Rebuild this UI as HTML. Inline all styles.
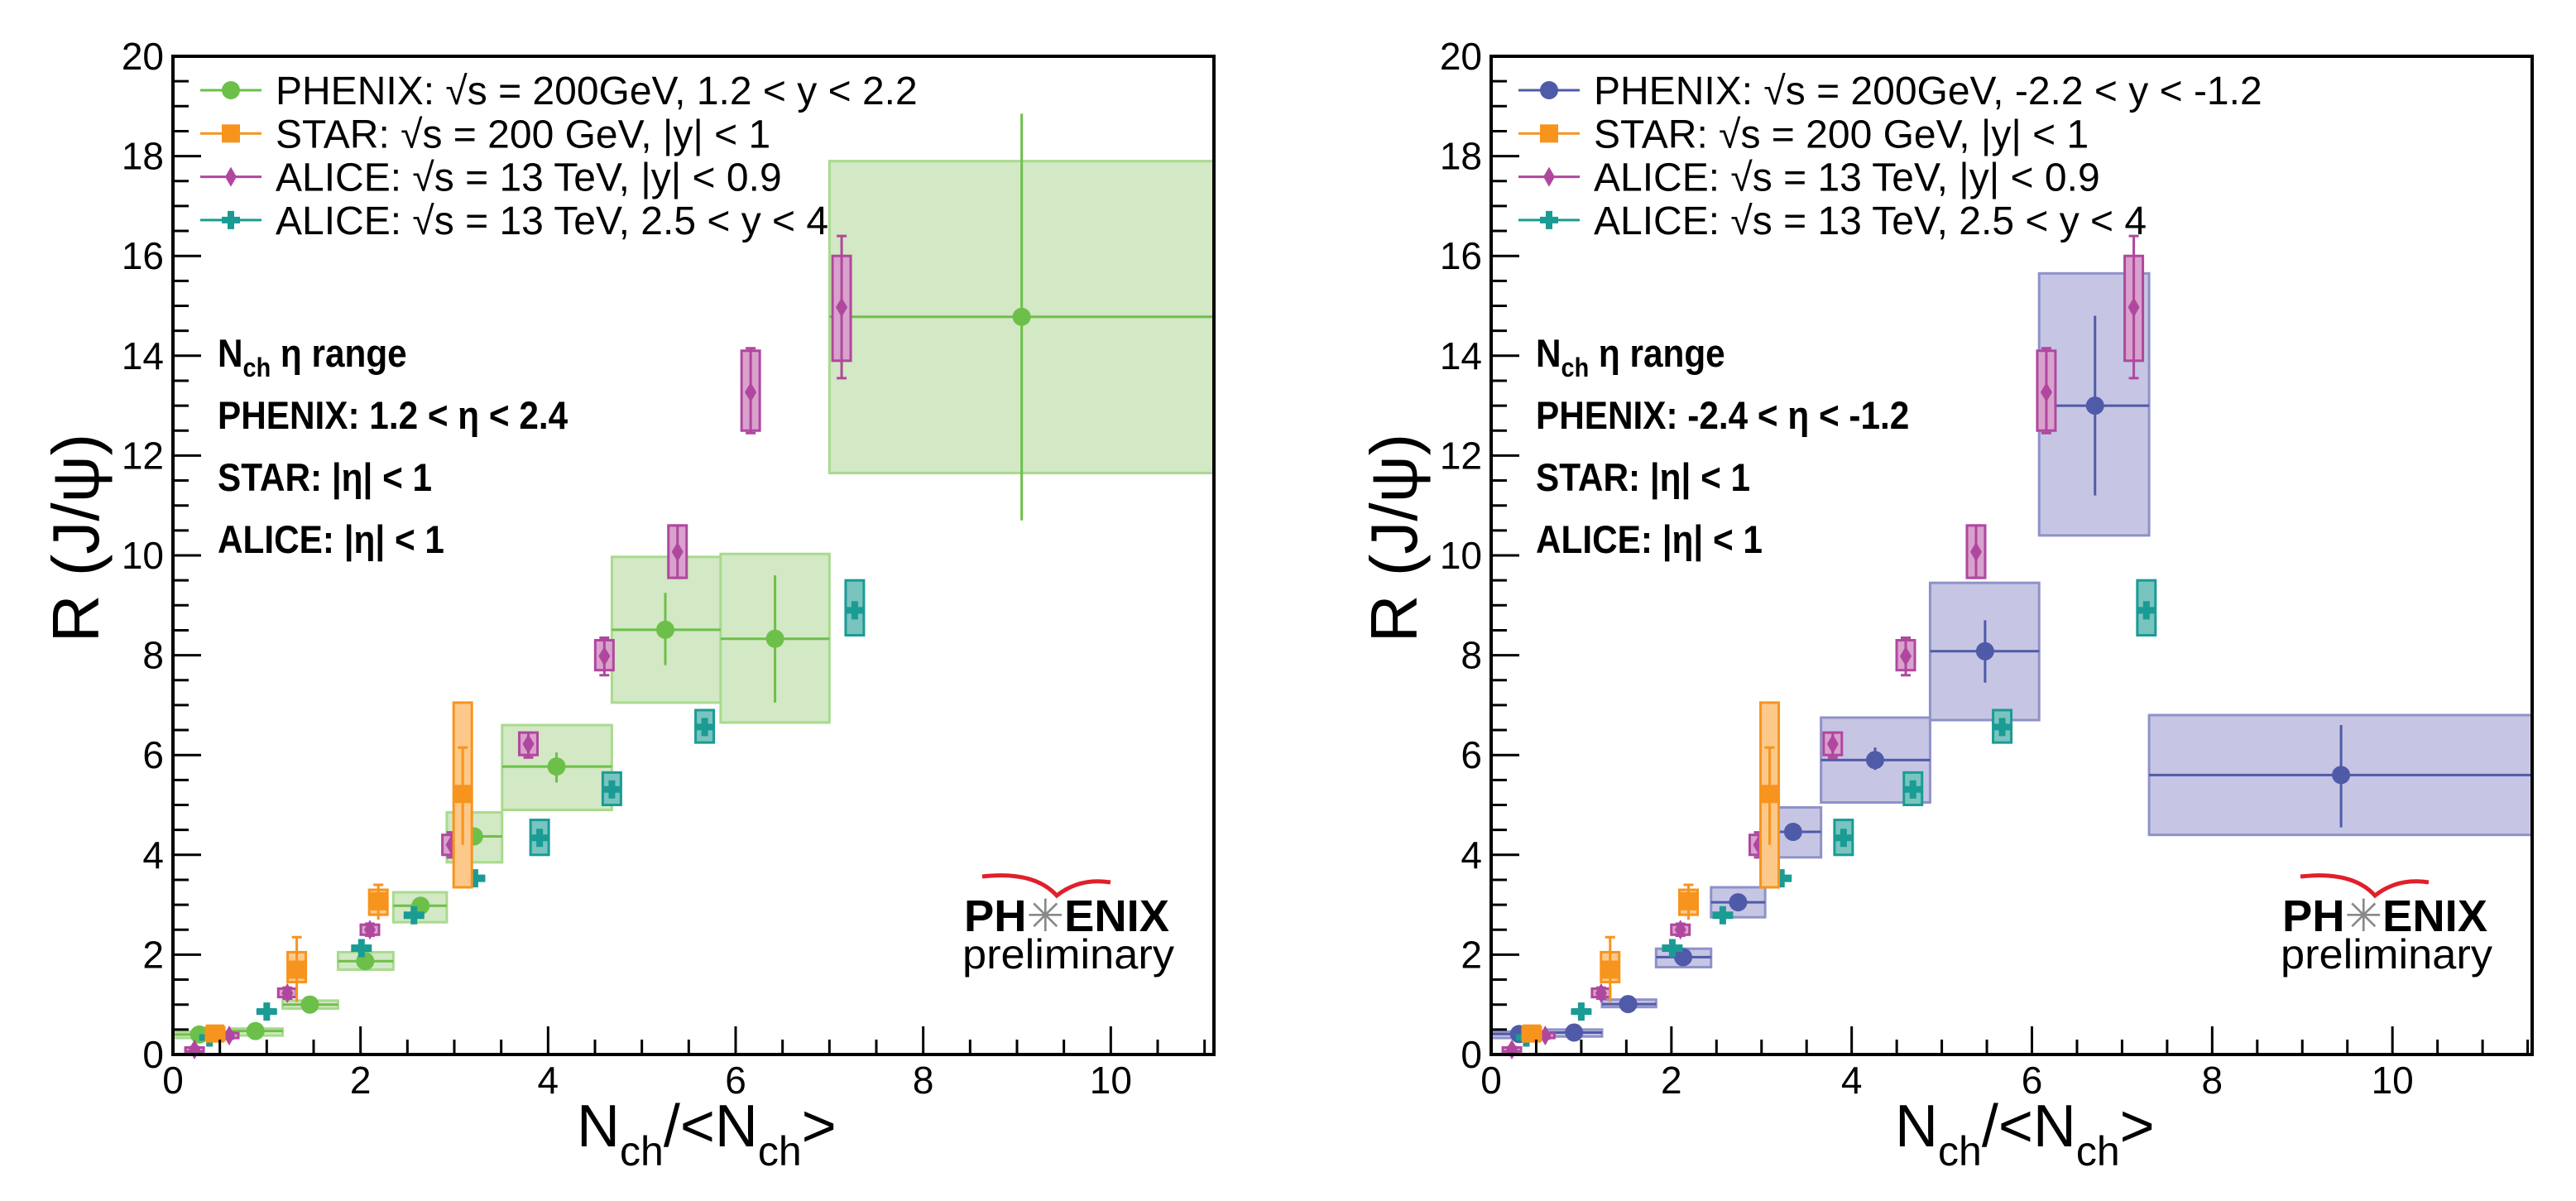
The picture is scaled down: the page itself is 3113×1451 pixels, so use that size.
<!DOCTYPE html>
<html><head><meta charset="utf-8">
<style>
html,body{margin:0;padding:0;background:#fff;}
svg{display:block;font-family:"Liberation Sans",sans-serif;}
</style></head>
<body>
<svg id="fig" width="3113" height="1451" viewBox="0 0 3113 1451" xmlns="http://www.w3.org/2000/svg"></svg>
<script>
// ---- data ----
const phxFwdX   = [0.28,0.88,1.46,2.05,2.64,3.21,4.09,5.25,6.42,9.05];
const phxFwdY   = [0.40,0.47,1.00,1.87,2.98,4.37,5.77,8.51,8.33,14.78];
const phxFwdXlo = [0.00,0.60,1.17,1.76,2.35,2.92,3.51,4.68,5.84,7.00];
const phxFwdXhi = [0.60,1.17,1.76,2.35,2.92,3.51,4.68,5.84,7.00,11.1];
const phxFwdBlo = [0.33,0.38,0.92,1.70,2.65,3.85,4.90,7.05,6.65,11.65];
const phxFwdBhi = [0.46,0.52,1.08,2.05,3.25,4.85,6.60,9.97,10.03,17.90];
const phxFwdSlo = [0.36,0.43,0.96,1.80,2.90,4.20,5.45,7.80,7.05,10.70];
const phxFwdShi = [0.44,0.51,1.04,1.95,3.06,4.55,6.05,9.25,9.60,18.85];
const phxBwdX   = [0.31,0.92,1.52,2.13,2.74,3.35,4.26,5.48,6.70,9.43];
const phxBwdY   = [0.41,0.44,1.01,1.95,3.05,4.46,5.90,8.08,13.00,5.60];
const phxBwdXlo = [0.00,0.62,1.23,1.83,2.44,3.04,3.66,4.87,6.08,7.30];
const phxBwdXhi = [0.62,1.23,1.83,2.44,3.04,3.66,4.87,6.08,7.30,11.55];
const phxBwdBlo = [0.33,0.36,0.95,1.75,2.75,3.95,5.05,6.70,10.40,4.40];
const phxBwdBhi = [0.46,0.50,1.10,2.12,3.35,4.95,6.75,9.45,15.65,6.80];
const phxBwdSlo = [0.37,0.40,0.97,1.85,2.95,4.30,5.70,7.45,11.20,4.55];
const phxBwdShi = [0.45,0.48,1.05,2.05,3.15,4.62,6.15,8.70,14.80,6.60];
const starX   = [0.45,1.32,2.19,3.09];
const starY   = [0.42,1.70,3.07,5.22];
const starBlo = [0.28,1.45,2.80,3.35];
const starBhi = [0.55,2.05,3.30,7.05];
const starSlo = [0.30,1.05,2.70,4.20];
const starShi = [0.54,2.35,3.40,6.15];
const aliMidX   = [0.23,0.60,1.22,2.10,2.97,3.79,4.60,5.38,6.16,7.13];
const aliMidY   = [0.10,0.38,1.23,2.50,4.20,6.22,7.98,10.07,13.27,14.97];
const aliMidBlo = [0.06,0.33,1.15,2.40,4.00,6.00,7.70,9.55,12.50,13.90];
const aliMidBhi = [0.14,0.43,1.32,2.60,4.40,6.45,8.30,10.60,14.10,16.00];
const aliMidSlo = [0.05,0.32,1.12,2.38,3.95,5.95,7.60,9.55,12.45,13.55];
const aliMidShi = [0.15,0.44,1.34,2.62,4.45,6.45,8.35,10.60,14.15,16.40];
const aliFwdX   = [0.39,1.00,2.01,2.57,3.22,3.91,4.68,5.67,7.27];
const aliFwdY   = [0.34,0.86,2.13,2.79,3.53,4.34,5.31,6.56,8.90];
const aliFwdBlo = [0.30,0.82,2.08,2.74,3.48,4.00,5.00,6.25,8.40];
const aliFwdBhi = [0.38,0.90,2.18,2.84,3.58,4.70,5.65,6.90,9.50];
const xTicks = [0,2,4,6,8,10];
const yTicks = [0,2,4,6,8,10,12,14,16,18,20];

const NS="http://www.w3.org/2000/svg";
const svg=document.getElementById('fig');
function mk(tag,attrs,parent){const e=document.createElementNS(NS,tag);for(const k in attrs)e.setAttribute(k,attrs[k]);(parent||svg).appendChild(e);return e;}

const C={grn:'#6cc04a',grnF:'#d3e8c4',grnB:'#a9da8e',blu:'#4f5aa8',bluF:'#c6c6e4',bluB:'#8f91c9',
 org:'#f7941d',orgF:'#fdc98b',mag:'#b0479e',magF:'#d8a2cd',tea:'#1a9b94',teaF:'#79c4bf'};

function panel(P){
  const g=mk('g',{});
  
  
  const sx=v=>P.x0+v*(P.x1-P.x0)/P.xmax;
  const sy=v=>P.y0-v*(P.y0-P.y1)/20;
  const pg=mk('g',{},g);
  
  
  for(let i=0;i<P.px.length;i++){
    const r=mk('rect',{x:sx(P.pxlo[i]),y:sy(P.pbhi[i]),width:sx(P.pxhi[i])-sx(P.pxlo[i]),height:sy(P.pblo[i])-sy(P.pbhi[i]),fill:P.fill,stroke:P.border,'stroke-width':3},pg);
    
    
  }
  const ag=mk('g',{},g);
  
  
  for(let i=0;i<aliFwdX.length;i++){
    const w=11;
    mk('rect',{x:sx(aliFwdX[i])-w,y:sy(aliFwdBhi[i]),width:2*w,height:sy(aliFwdBlo[i])-sy(aliFwdBhi[i]),fill:C.teaF,stroke:C.tea,'stroke-width':3},ag);
    const c=mk('path',{d:`M${sx(aliFwdX[i])-11},${sy(aliFwdY[i])}h22M${sx(aliFwdX[i])},${sy(aliFwdY[i])-11}v22`,stroke:C.tea,'stroke-width':8,fill:'none'},ag);
    
    
  }
  const mg=mk('g',{},g);
  
  
  for(let i=0;i<aliMidX.length;i++){
    const x=sx(aliMidX[i]),y=sy(aliMidY[i]),w=11;
    mk('rect',{x:x-w,y:sy(aliMidBhi[i]),width:2*w,height:sy(aliMidBlo[i])-sy(aliMidBhi[i]),fill:C.magF,stroke:C.mag,'stroke-width':3},mg);
    mk('path',{d:`M${x},${sy(aliMidShi[i])}V${sy(aliMidSlo[i])}M${x-6},${sy(aliMidShi[i])}h12M${x-6},${sy(aliMidSlo[i])}h12`,stroke:C.mag,'stroke-width':3,fill:'none'},mg);
    const d=mk('path',{d:`M${x},${y-12}L${x+7},${y}L${x},${y+12}L${x-7},${y}Z`,fill:C.mag},mg);
    
    
  }
  const stg=mk('g',{},g);
  
  
  for(let i=0;i<starX.length;i++){
    const x=sx(starX[i]),y=sy(starY[i]),w=11;
    mk('rect',{x:x-w,y:sy(starBhi[i]),width:2*w,height:sy(starBlo[i])-sy(starBhi[i]),fill:C.orgF,stroke:C.org,'stroke-width':3},stg);
    mk('path',{d:`M${x},${sy(starShi[i])}V${sy(starSlo[i])}M${x-6},${sy(starShi[i])}h12`,stroke:C.org,'stroke-width':3,fill:'none'},stg);
    const s=mk('rect',{x:x-11,y:y-11,width:22,height:22,fill:C.org},stg);
    
    
  }
  for(let i=0;i<P.px.length;i++){
    const x=sx(P.px[i]),y=sy(P.py[i]);
    mk('path',{d:`M${sx(P.pxlo[i])},${y}H${sx(P.pxhi[i])}M${x},${sy(P.pshi[i])}V${sy(P.pslo[i])}`,stroke:P.line,'stroke-width':3,fill:'none'},pg);
    const c=mk('circle',{cx:x,cy:y,r:11,fill:P.line},pg);
    
    
  }
  const fr=mk('rect',{x:P.x0,y:P.y1,width:P.x1-P.x0,height:P.y0-P.y1,fill:'none',stroke:'#000','stroke-width':4},g);
  
  
  let td='';
  for(let v=0;v<=P.xmax+1e-6;v+=0.5){const x=sx(v);td+=`M${x},${P.y0}v${Math.abs(v%2)<1e-6?-34:-18}`;}
  for(let v=0;v<=20;v+=0.5){const y=sy(v);td+=`M${P.x0},${y}h${Math.abs(v%2)<1e-6?34:19}`;}
  mk('path',{d:td,stroke:'#000','stroke-width':3,fill:'none'},g);
  for(const v of xTicks){const t=mk('text',{x:sx(v),y:P.y0+47,'font-size':46,'text-anchor':'middle'},g);t.textContent=v;
    
    }
  for(const v of yTicks){const t=mk('text',{x:P.x0-11,y:sy(v)+16,'font-size':46,'text-anchor':'end'},g);t.textContent=v;
    
    }
  const yt=mk('text',{x:0,y:0,'font-size':80,'text-anchor':'middle',transform:`translate(${P.x0-90},${650}) rotate(-90)`},g);
  yt.textContent='R (J/ψ)';
  
  
  const xt=mk('text',{x:P.x0+488,y:1385,'font-size':72},g);
  xt.innerHTML='N<tspan font-size="50" dy="23">ch</tspan><tspan dy="-23">/&lt;N</tspan><tspan font-size="50" dy="23">ch</tspan><tspan dy="-23">&gt;</tspan>';
  
  
  const lg=mk('g',{},g);
  
  
  const ents=[[P.line,'circle',P.leg0],[C.org,'square','STAR: √s = 200 GeV, |y| &lt; 1'],[C.mag,'diamond','ALICE: √s = 13 TeV, |y| &lt; 0.9'],[C.tea,'cross','ALICE: √s = 13 TeV, 2.5 &lt; y &lt; 4']];
  ents.forEach((e,i)=>{
    const cy=109+i*52.3, lx=P.x0+33, mx=P.x0+70;
    const eg=mk('g',{},lg);
    
    
    mk('path',{d:`M${lx},${cy}h74`,stroke:e[0],'stroke-width':3},eg);
    if(e[1]=='circle')mk('circle',{cx:mx,cy:cy,r:11,fill:e[0]},eg);
    if(e[1]=='square')mk('rect',{x:mx-11,y:cy-11,width:22,height:22,fill:e[0]},eg);
    if(e[1]=='diamond')mk('path',{d:`M${mx},${cy-12}l7,12l-7,12l-7,-12z`,fill:e[0]},eg);
    if(e[1]=='cross')mk('path',{d:`M${mx-11},${cy}h22M${mx},${cy-11}v22`,stroke:e[0],'stroke-width':8},eg);
    const t=mk('text',{x:P.x0+124,y:cy+17,'font-size':48},eg);t.innerHTML=e[2];
  });
  const an=[ 'N<tspan font-size="32" dy="12">ch</tspan><tspan dy="-12">  η range</tspan>', P.eta,'STAR: |η| &lt; 1','ALICE: |η| &lt; 1'];
  const ag2=mk('g',{transform:`translate(${P.x0+54},0) scale(0.9,1)`},g);
  an.forEach((s,i)=>{const t=mk('text',{x:0,y:[443,518,593,668][i],'font-size':47,'font-weight':'bold'},ag2);t.innerHTML=s;
    
    });
  const lgx=P.x0+956;
  const lo=mk('g',{},g);
  
  
  mk('path',{d:`M${lgx+22},${1059} Q${lgx+85},${1052} ${lgx+112},${1082} Q${lgx+140},${1060} ${lgx+177},${1066}`,stroke:'#e0202a','stroke-width':5,fill:'none'},lo);
  const t1=mk('text',{x:lgx,y:1125,'font-size':54,'font-weight':'bold',textLength:248,lengthAdjust:'spacingAndGlyphs'},lo);t1.innerHTML='PH<tspan fill="#888" font-weight="normal">✳</tspan>ENIX';
  const t2=mk('text',{x:lgx-2,y:1170,'font-size':50,textLength:256,lengthAdjust:'spacingAndGlyphs'},lo);t2.textContent='preliminary';
}
panel({name:'left-panel',x0:209,x1:1467,xmax:11.1,y0:1274,y1:68,fill:C.grnF,border:C.grnB,line:C.grn,
  px:phxFwdX,py:phxFwdY,pxlo:phxFwdXlo,pxhi:phxFwdXhi,pblo:phxFwdBlo,pbhi:phxFwdBhi,pslo:phxFwdSlo,pshi:phxFwdShi,
  leg0:'PHENIX: √s = 200GeV, 1.2 &lt; y &lt; 2.2',eta:'PHENIX: 1.2 &lt;  η &lt; 2.4'});
panel({name:'right-panel',x0:1802,x1:3060,xmax:11.55,y0:1274,y1:68,fill:C.bluF,border:C.bluB,line:C.blu,
  px:phxBwdX,py:phxBwdY,pxlo:phxBwdXlo,pxhi:phxBwdXhi,pblo:phxBwdBlo,pbhi:phxBwdBhi,pslo:phxBwdSlo,pshi:phxBwdShi,
  leg0:'PHENIX: √s = 200GeV, -2.2 &lt; y &lt; -1.2',eta:'PHENIX: -2.4 &lt;  η &lt; -1.2'});
</script>
</body></html>
